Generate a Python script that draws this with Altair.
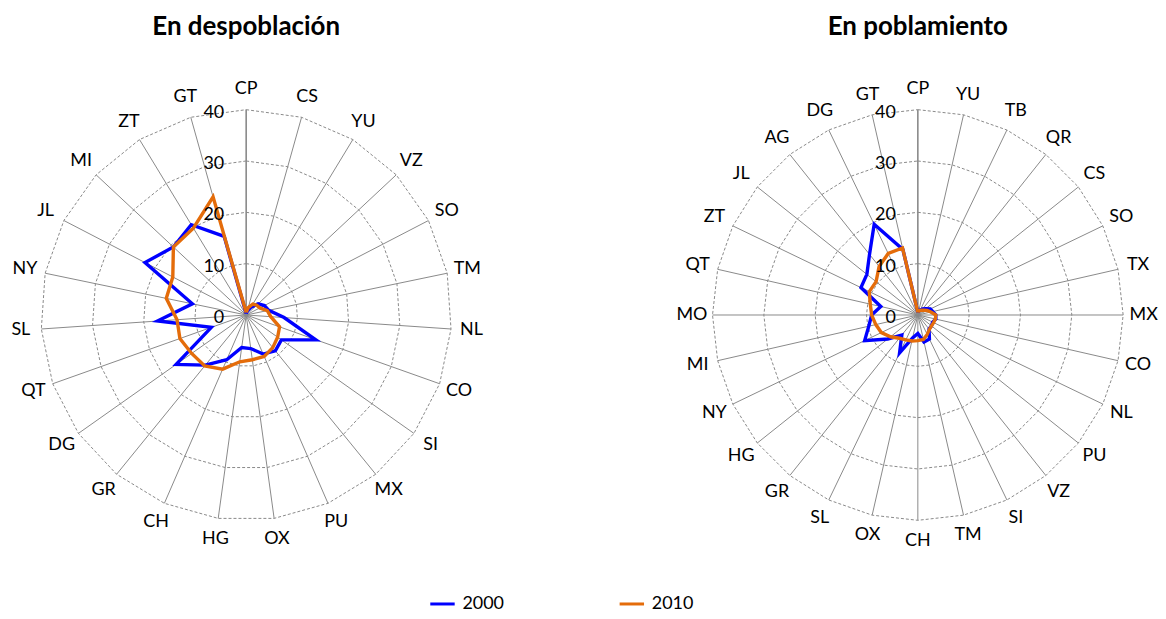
import altair as alt
import pandas as pd

# ---------------- data ----------------
left_cats = ["CP", "CS", "YU", "VZ", "SO", "TM", "NL", "CO", "SI", "MX", "PU", "OX",
             "HG", "CH", "GR", "DG", "QT", "SL", "NY", "JL", "MI", "ZT", "GT"]
left_2000 = [0.3, 0.8, 1.8, 3.2, 4.0, 4.5, 7.4, 14.4, 8.4, 9.0, 8.3, 6.6,
             6.4, 9.5, 12.6, 16.7, 7.2, 17.3, 10.7, 22.2, 19.4, 20.6, 15.9]
left_2010 = [0.5, 1.5, 2.5, 2.8, 3.0, 4.2, 4.8, 6.9, 7.5, 8.2, 8.8, 8.8,
             9.2, 11.5, 12.8, 13.0, 13.7, 13.5, 15.9, 16.1, 19.4, 19.8, 23.9]

right_cats = ["CP", "YU", "TB", "QR", "CS", "SO", "TX", "MX", "CO", "NL", "PU", "VZ",
              "SI", "TM", "CH", "OX", "SL", "GR", "HG", "NY", "MI", "MO", "QT", "ZT",
              "JL", "AG", "DG", "GT"]
right_2000 = [0.5, 1.0, 1.0, 1.5, 2.0, 2.7, 3.0, 3.5, 3.6, 3.2, 3.4, 3.5,
              5.2, 5.4, 3.6, 4.6, 8.2, 5.0, 7.5, 11.5, 9.8, 9.0, 7.4, 12.3,
              12.7, 15.1, 19.6, 13.1]
right_2010 = [0.5, 0.8, 1.0, 1.2, 1.5, 2.0, 2.6, 3.5, 3.5, 3.4, 3.4, 3.6,
              4.2, 4.9, 5.0, 5.2, 5.4, 5.8, 6.8, 7.9, 8.4, 9.0, 9.5, 10.5,
              10.4, 12.1, 13.3, 13.4]

years = ["2000", "2010"]
ring_values = [10, 20, 30, 40]
tick_values = [0, 10, 20, 30, 40]
titles = ["En despoblación", "En poblamiento"]

# ---------------- style ----------------
FONT = "Lato"
BLUE = "#0000FF"
ORANGE = "#E46C0A"
GRID = "#8a8a8a"
D = 46.4          # half-domain in value units
SIZE = 478        # panel plot size in px
LABEL_R = 44      # radius (units) where category labels sit


def panel(cats, v2000, v2010, title):
    n = len(cats)
    srows = []
    for year, vals in zip(years, (v2000, v2010)):
        for i, v in enumerate(list(vals) + [vals[0]]):
            srows.append({"idx": i, "n": n, "year": year, "value": v})
    series = pd.DataFrame(srows)

    rrows = []
    for r in ring_values:
        for i in range(n + 1):
            rrows.append({"idx": i, "n": n, "ring": r})
    rings = pd.DataFrame(rrows)

    spokes = pd.DataFrame({"idx": list(range(n)), "n": [n] * n})
    labels = pd.DataFrame({"cat": cats, "idx": list(range(n)), "n": [n] * n})
    ticks = pd.DataFrame({"t": tick_values})

    xs = alt.Scale(domain=[-D, D], nice=False, zero=False)
    ys = alt.Scale(domain=[-D, D], nice=False, zero=False)

    ang = "2*PI*datum.idx/datum.n"

    ring_layer = alt.Chart(rings).transform_calculate(
        x=f"datum.ring*sin({ang})", y=f"datum.ring*cos({ang})"
    ).mark_line(color=GRID, strokeWidth=1, strokeDash=[3, 2]).encode(
        x=alt.X("x:Q", scale=xs, axis=None),
        y=alt.Y("y:Q", scale=ys, axis=None),
        detail="ring:N",
        order="idx:Q",
    )

    spoke_layer = alt.Chart(spokes).transform_calculate(
        x0="0", y0="0",
        x2=f"40*sin({ang})", y2=f"40*cos({ang})"
    ).mark_rule(color=GRID).encode(
        x=alt.X("x0:Q", scale=xs, axis=None),
        y=alt.Y("y0:Q", scale=ys, axis=None),
        x2="x2:Q",
        y2="y2:Q",
        strokeWidth=alt.condition("datum.idx == 0", alt.value(1.6), alt.value(1)),
    )

    line_layer = alt.Chart(series).transform_calculate(
        x=f"datum.value*sin({ang})", y=f"datum.value*cos({ang})"
    ).mark_line(strokeWidth=3.4, strokeJoin="miter").encode(
        x=alt.X("x:Q", scale=xs, axis=None),
        y=alt.Y("y:Q", scale=ys, axis=None),
        color=alt.Color(
            "year:N",
            scale=alt.Scale(domain=years, range=[BLUE, ORANGE]),
            legend=alt.Legend(
                title=None, orient="none", direction="horizontal",
                legendX=422, legendY=515,
                symbolType="stroke", symbolStrokeWidth=3, symbolSize=600,
                labelFont=FONT, labelFontSize=18, labelColor="#000000",
                columnPadding=109, labelOffset=6, padding=0,
            ),
        ),
        order="idx:Q",
    )

    tick_layer = alt.Chart(ticks).transform_calculate(
        x="0", y="datum.t"
    ).mark_text(align="right", baseline="middle", dx=-22, dy=3,
                font=FONT, fontSize=18, color="#000000").encode(
        x=alt.X("x:Q", scale=xs, axis=None),
        y=alt.Y("y:Q", scale=ys, axis=None),
        text="t:Q",
    )

    label_layer = alt.Chart(labels).transform_calculate(
        x=f"{LABEL_R}*sin({ang})", y=f"{LABEL_R}*cos({ang})"
    ).mark_text(align="center", baseline="middle",
                font=FONT, fontSize=18, color="#000000").encode(
        x=alt.X("x:Q", scale=xs, axis=None),
        y=alt.Y("y:Q", scale=ys, axis=None),
        text="cat:N",
    )

    return alt.layer(
        ring_layer, spoke_layer, line_layer, tick_layer, label_layer
    ).properties(
        width=SIZE, height=SIZE,
        title=alt.TitleParams(title, font=FONT, fontSize=26, fontWeight="bold",
                              color="#000000", anchor="middle", offset=37),
    )


left = panel(left_cats, left_2000, left_2010, titles[0])
right = panel(right_cats, right_2000, right_2010, titles[1])

chart = alt.hconcat(left, right, spacing=192).properties(
    padding={"left": 0, "top": 5, "right": 0, "bottom": 0}
).configure(background="#ffffff").configure_view(stroke=None)

chart.save("out.html", embed_options={"renderer": "svg", "actions": False})
